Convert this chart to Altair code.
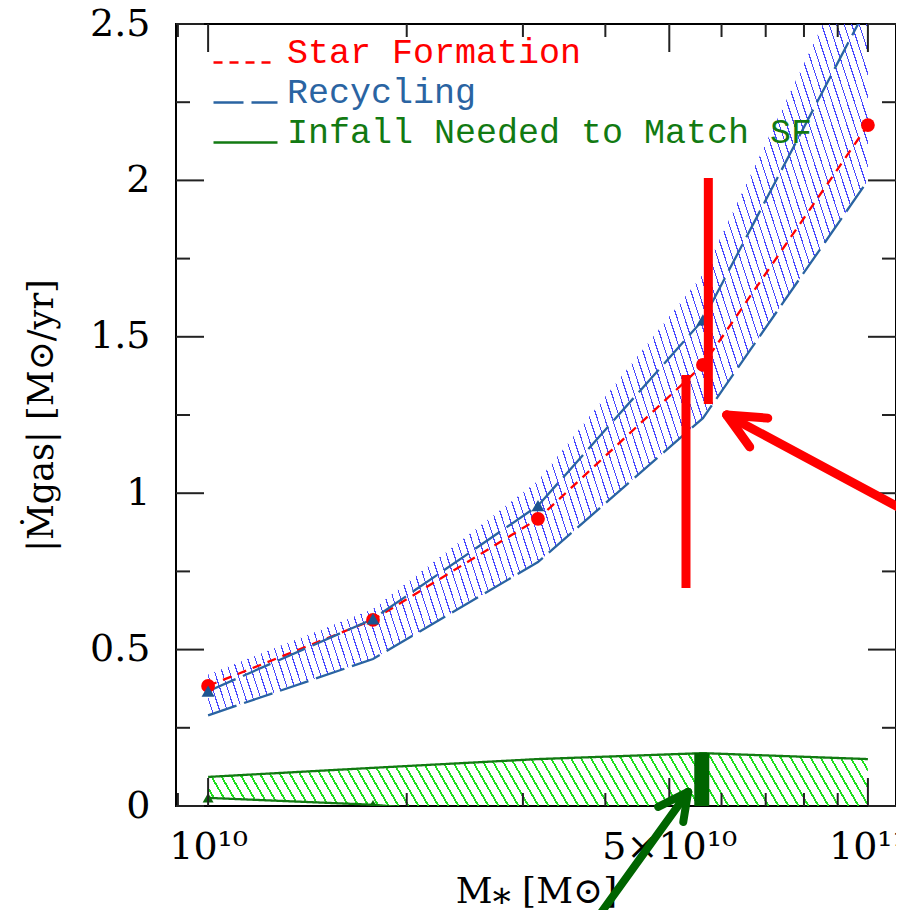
import math
import altair as alt
import pandas as pd

# ---------------- data ----------------
mass = [1.0e10, 1.778e10, 3.162e10, 5.623e10, 1.0e11]
star_formation = [0.384, 0.595, 0.918, 1.41, 2.177]
recycling_mid = [0.367, 0.598, 0.96, 1.554, 2.56]
recycling_low = [0.29, 0.47, 0.78, 1.24, 2.0]
recycling_high = [0.42, 0.63, 1.04, 1.70, 2.80]
infall_low = [0.026, 0.004, -0.04, -0.08, -0.10]
infall_high = [0.093, 0.122, 0.150, 0.169, 0.150]

series_names = ["Star Formation", "Recycling", "Infall Needed to Match SF"]
series_colors = ["#ff0000", "#2a64a2", "#127a12"]

y_major = [0, 0.5, 1, 1.5, 2, 2.5]
y_minor = [0.25, 0.75, 1.25, 1.75, 2.25]
x_major = [1e10, 5e10, 1e11]
x_minor = [9e9, 2e10, 3e10, 4e10, 6e10, 7e10, 8e10, 9e10]

# hand-drawn annotations (data coordinates)
red_bar_x = [5.30e10, 5.73e10]
red_bar_lo = [0.697, 1.285]
red_bar_hi = [1.378, 2.008]
red_arrow_x = [1.2e11, 6.11e10, 6.11e10]
red_arrow_y = [0.918, 1.25, 1.25]
red_arrow_x2 = [6.11e10, 7.05e10, 6.62e10]
red_arrow_y2 = [1.25, 1.24, 1.148]
green_bar_x = [5.6e10]
green_bar_lo = [0.0]
green_bar_hi = [0.17]
green_arrow_x = [3.66e10, 5.34e10, 5.34e10]
green_arrow_y = [-0.435, 0.045, 0.045]
green_arrow_x2 = [5.34e10, 4.81e10, 5.25e10]
green_arrow_y2 = [0.045, -0.003, -0.051]

# ---------------- layout ----------------
W, H = 720, 782
X_DOMAIN = [8.94e9, 1.103e11]
Y_DOMAIN = [0, 2.5]
SERIF = "DejaVu Serif"

xs = alt.Scale(type="log", domain=X_DOMAIN, nice=False)
ys = alt.Scale(domain=Y_DOMAIN, nice=False, zero=False)

LX0, LX1 = math.log10(X_DOMAIN[0]), math.log10(X_DOMAIN[1])


def to_px(v):
    return (math.log10(v) - LX0) / (LX1 - LX0) * W


def to_py(v):
    return (Y_DOMAIN[1] - v) / (Y_DOMAIN[1] - Y_DOMAIN[0]) * H


def hatch(color, angle_deg, spacing_px, width_px, xvals, ylo, yhi):
    """Striped linear gradient (hatch look), phase-locked to plot pixels."""
    px = [to_px(v) for v in xvals]
    py = [to_py(v) for v in list(ylo) + list(yhi)]
    left, top = min(px), min(py)
    bw = max(px) - left
    bh = max(py) - top
    a = math.radians(angle_deg)
    nx, ny = math.sin(a), -math.cos(a)          # normal of the stripes (pixels)
    R = abs(nx) * bw + abs(ny) * bh
    c = R / (nx * nx * bw * bw + ny * ny * bh * bh)
    u0, v0 = 0.0, 1.0                            # bottom-left corner minimises n.p
    s0 = nx * left + ny * (top + bh)
    x2 = u0 + c * nx * bw
    y2 = v0 + c * ny * bh
    perp = spacing_px * math.sin(a)
    clear = "rgba(255,255,255,0)"

    def cl(t):
        return round(min(max(t, 0.0), 1.0), 6)

    stops = []
    k = math.floor(s0 / perp)
    while True:
        t_a = (k * perp - s0) / R
        if t_a >= 1:
            break
        t_b = (k * perp + width_px - s0) / R
        t_n = ((k + 1) * perp - s0) / R
        if cl(t_b) > cl(t_a):
            stops += [alt.GradientStop(offset=cl(t_a), color=color),
                      alt.GradientStop(offset=cl(t_b), color=color)]
        stops += [alt.GradientStop(offset=cl(t_b), color=clear),
                  alt.GradientStop(offset=cl(t_n), color=clear)]
        k += 1
    return alt.Gradient(gradient="linear", stops=stops, x1=u0, y1=v0, x2=x2, y2=y2)


x_axis = alt.Axis(
    values=x_major,
    labelExpr="datum.value < 2e10 ? '10¹⁰' : (datum.value < 7e10 ? '5×10¹⁰' : '10¹¹')",
    ticks=False, tickSize=0, domain=False, grid=False, labelFlush=False,
    labelFont=SERIF, labelFontSize=38, labelColor="black", labelPadding=22,
    title="M⁎ [M⊙]", titleFont=SERIF, titleFontSize=36, titleFontWeight="normal",
    titleColor="black", titlePadding=8,
)
y_axis = alt.Axis(
    values=y_major, format="~g",
    ticks=False, tickSize=0, domain=False, grid=False, labelFlush=False,
    labelFont=SERIF, labelFontSize=38, labelColor="black", labelPadding=26,
    title="|Ṁgas| [M⊙/yr]", titleFont=SERIF, titleFontSize=35, titleFontWeight="normal",
    titleColor="black", titlePadding=30,
)


def X(field):
    return alt.X(field, scale=xs, axis=x_axis)


def Y(field):
    return alt.Y(field, scale=ys, axis=y_axis)


band_df = pd.DataFrame({
    "mass": mass,
    "rec_lo": recycling_low, "rec_hi": recycling_high,
    "inf_lo": infall_low, "inf_hi": infall_high,
})

band_layers = []
for i in range(len(mass) - 1):
    seg = band_df.iloc[i:i + 2]
    band_layers.append(
        alt.Chart(seg).mark_area(
            clip=True,
            color=hatch("#4848ff", 72, 7.5, 1.1, list(seg["mass"]), list(seg["rec_lo"]), list(seg["rec_hi"])),
        ).encode(x=X("mass:Q"), y=Y("rec_hi:Q"), y2="rec_lo:Q")
    )
for i in range(len(mass) - 1):
    seg = band_df.iloc[i:i + 2]
    band_layers.append(
        alt.Chart(seg).mark_area(
            clip=True,
            color=hatch("#1fe01f", 60, 10, 1.8, list(seg["mass"]), list(seg["inf_lo"]), list(seg["inf_hi"])),
        ).encode(x=X("mass:Q"), y=Y("inf_hi:Q"), y2="inf_lo:Q")
    )

rows = []
for i, m in enumerate(mass):
    rows.append({"mass": m, "value": star_formation[i], "series": series_names[0], "part": "sf"})
    rows.append({"mass": m, "value": recycling_mid[i], "series": series_names[1], "part": "rec_mid"})
    rows.append({"mass": m, "value": recycling_low[i], "series": series_names[1], "part": "rec_lo"})
    rows.append({"mass": m, "value": infall_high[i], "series": series_names[2], "part": "inf_hi"})
    rows.append({"mass": m, "value": infall_low[i], "series": series_names[2], "part": "inf_lo"})
lines_df = pd.DataFrame(rows)

legend = alt.Legend(
    title=None, orient="none", legendX=48, legendY=17, padding=0,
    symbolType="M-1.6,0H1.6", symbolSize=1600, symbolStrokeWidth=2.5,
    labelFont="Liberation Mono", labelFontSize=35, labelBaseline="alphabetic",
    labelOffset=20, labelLimit=900, rowPadding=4,
    labelColor=alt.ExprRef(
        expr="datum.value == 'Star Formation' ? '#ff0000' : (datum.value == 'Recycling' ? '#2a64a2' : '#127a12')"
    ),
)

lines = alt.Chart(lines_df).mark_line(clip=True, strokeWidth=2.3).encode(
    x=X("mass:Q"), y=Y("value:Q"),
    color=alt.Color("series:N", scale=alt.Scale(domain=series_names, range=series_colors), legend=legend),
    strokeDash=alt.StrokeDash("series:N",
                              scale=alt.Scale(domain=series_names, range=[[9, 7], [30, 8], [1, 0]]),
                              legend=legend),
    detail="part:N",
)

pts_df = pd.DataFrame({"mass": mass, "sf": star_formation, "rec": recycling_mid, "inf": infall_low})
circles = alt.Chart(pts_df).mark_circle(clip=True, size=190, color="#ff0000", opacity=1).encode(
    x=X("mass:Q"), y=Y("sf:Q"))
tri_blue = alt.Chart(pts_df).mark_point(clip=True, shape="triangle-up", filled=True, size=170,
                                        color="#1d5591", opacity=1).encode(
    x=X("mass:Q"), y=Y("rec:Q"))
tri_green = alt.Chart(pts_df).mark_point(clip=True, shape="triangle-up", filled=True, size=120,
                                         color="#0b6b0b", opacity=1).encode(
    x=X("mass:Q"), y=Y("inf:Q"))

# ---------------- inward ticks on all four sides ----------------
TICK = "#222222"


def yticks(vals, length):
    d = pd.DataFrame({"v": vals})
    left = alt.Chart(d).mark_rule(color=TICK, strokeWidth=2).encode(
        y=Y("v:Q"), x=alt.value(0), x2=alt.value(length))
    right = alt.Chart(d).mark_rule(color=TICK, strokeWidth=2).encode(
        y=Y("v:Q"), x=alt.value(W), x2=alt.value(W - length))
    return [left, right]


def xticks(vals, length):
    d = pd.DataFrame({"v": vals})
    bottom = alt.Chart(d).mark_rule(color=TICK, strokeWidth=2).encode(
        x=X("v:Q"), y=alt.value(H), y2=alt.value(H - length))
    top = alt.Chart(d).mark_rule(color=TICK, strokeWidth=2).encode(
        x=X("v:Q"), y=alt.value(0), y2=alt.value(length))
    return [bottom, top]


tick_layers = yticks(y_major, 28) + yticks(y_minor, 14) + xticks(x_major, 28) + xticks(x_minor, 13)

# ---------------- annotations ----------------
red_bars = alt.Chart(pd.DataFrame({"x": red_bar_x, "lo": red_bar_lo, "hi": red_bar_hi})).mark_rule(
    color="#ff0000", strokeWidth=9).encode(x=X("x:Q"), y=Y("lo:Q"), y2="hi:Q")
red_arrow = alt.Chart(pd.DataFrame({"x": red_arrow_x, "y": red_arrow_y,
                                   "x2": red_arrow_x2, "y2": red_arrow_y2})).mark_rule(
    color="#ff0000", strokeWidth=9, strokeCap="round").encode(
    x=X("x:Q"), y=Y("y:Q"), x2="x2:Q", y2="y2:Q")
green_bar = alt.Chart(pd.DataFrame({"x": green_bar_x, "lo": green_bar_lo, "hi": green_bar_hi})).mark_rule(
    color="#006400", strokeWidth=15).encode(x=X("x:Q"), y=Y("lo:Q"), y2="hi:Q")
green_arrow = alt.Chart(pd.DataFrame({"x": green_arrow_x, "y": green_arrow_y,
                                     "x2": green_arrow_x2, "y2": green_arrow_y2})).mark_rule(
    color="#006400", strokeWidth=8, strokeCap="round").encode(
    x=X("x:Q"), y=Y("y:Q"), x2="x2:Q", y2="y2:Q")

chart = alt.layer(
    *band_layers, lines, circles, tri_blue, tri_green,
    *tick_layers,
    red_bars, red_arrow, green_bar, green_arrow,
).properties(
    width=W, height=H,
    padding={"left": 168, "top": 16, "right": 0, "bottom": 104},
    autosize=alt.AutoSizeParams(type="none"),
    background="white",
).configure_view(stroke="black", strokeWidth=2)

chart.save("out.html", embed_options={"renderer": "svg", "actions": False})
